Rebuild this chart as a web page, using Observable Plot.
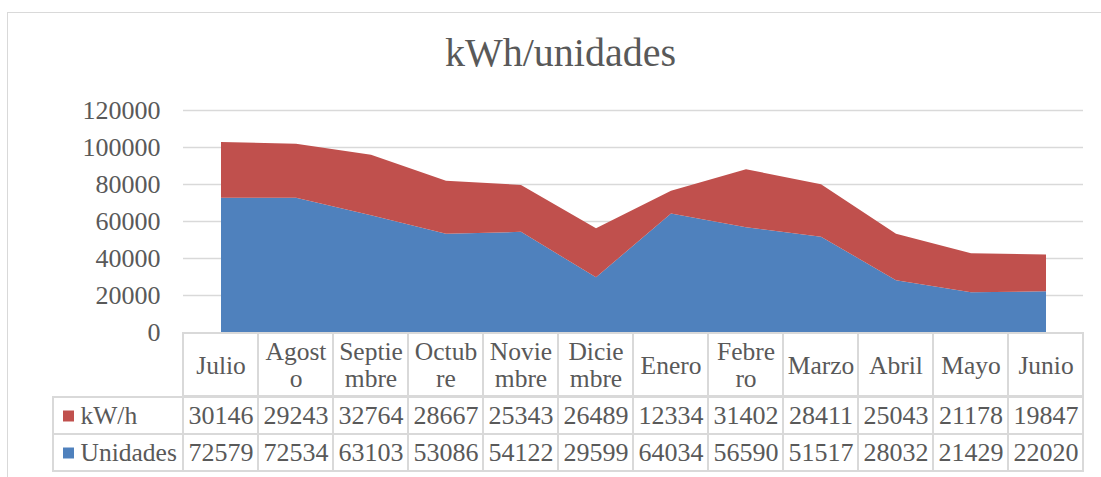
<!DOCTYPE html>
<html><head><meta charset="utf-8">
<script src="https://cdn.jsdelivr.net/npm/d3@7"></script>
<script src="https://cdn.jsdelivr.net/npm/@observablehq/plot@0.6"></script>
<style>
html,body{margin:0;padding:0;background:#fff;overflow:hidden;}
#wrap{position:relative;width:1101px;height:477px;overflow:hidden;font-family:"Liberation Serif",serif;color:#595959;background:#fff;}
#frame{position:absolute;left:7px;top:12px;width:1200px;height:600px;border:1.5px solid #d9d9d9;box-sizing:border-box;}
#title{position:absolute;left:0;top:33px;width:1121px;text-align:center;font-size:40px;line-height:40px;}
svg{position:absolute;overflow:visible;}
</style></head><body>
<div id="wrap"><div id="frame"></div><div id="title">kWh/unidades</div></div>
<script>
// ---- data ----
const months = ["Julio","Agosto","Septiembre","Octubre","Noviembre","Diciembre","Enero","Febrero","Marzo","Abril","Mayo","Junio"];
const monthLabels = ["Julio","Agost\no","Septie\nmbre","Octub\nre","Novie\nmbre","Dicie\nmbre","Enero","Febre\nro","Marzo","Abril","Mayo","Junio"];
const seriesNames = ["kW/h","Unidades"];
const kwh = [30146,29243,32764,28667,25343,26489,12334,31402,28411,25043,21178,19847];
const unidades = [72579,72534,63103,53086,54122,29599,64034,56590,51517,28032,21429,22020];
const yTicks = [0,20000,40000,60000,80000,100000,120000];

// ---- styles ----
const colors = ["#c0504d","#4f81bd"];
const gridColor = "#d9d9d9";
const textColor = "#595959";
const baseStyle = {fontFamily:"'Liberation Serif', serif", fontSize:"25.5px", color:textColor, background:"transparent", overflow:"visible"};
const wrap = document.getElementById("wrap");

const stacked = [
  ...months.map((m,i)=>({month:m, series:"Unidades", value:unidades[i]})),
  ...months.map((m,i)=>({month:m, series:"kW/h", value:kwh[i]}))
];
const rows = [
  ...months.map((m,i)=>({month:m, series:"kW/h", value:kwh[i]})),
  ...months.map((m,i)=>({month:m, series:"Unidades", value:unidades[i]}))
];

// ---- main stacked area chart ----
const chart = Plot.plot({
  width:1101, height:340, marginTop:110, marginBottom:8, marginLeft:183, marginRight:18,
  style: baseStyle,
  x: {type:"point", domain:months, padding:0.5, axis:null},
  y: {domain:[0,120000], axis:null},
  color: {domain:seriesNames, range:colors},
  marks: [
    Plot.gridY(yTicks.filter(t=>t>0), {stroke:gridColor, strokeOpacity:1, strokeWidth:1.5}),
    Plot.areaY(stacked, {x:"month", y:"value", fill:"series", order:null}),
    Plot.axisY(yTicks, {tickSize:0, tickPadding:23, fontSize:26, label:null, tickFormat:d=>String(d)})
  ]
});
chart.style.left="0px"; chart.style.top="0px";
wrap.appendChild(chart);

// ---- table header row ----
const header = Plot.plot({
  width:1101, height:64, marginTop:1, marginBottom:0, marginLeft:183, marginRight:18,
  style: baseStyle,
  x: {type:"band", domain:months, padding:0, axis:null},
  marks: [
    Plot.cell(months, {x:d=>d, fill:"white", stroke:gridColor, strokeWidth:2}),
    Plot.text(months, {x:d=>d, text:(d,i)=>monthLabels[i], lineHeight:1.06, fill:textColor})
  ]
});
header.style.left="0px"; header.style.top="332px";
wrap.appendChild(header);

// ---- table value rows ----
const table = Plot.plot({
  width:1101, height:77, marginTop:1, marginBottom:1, marginLeft:183, marginRight:18,
  style: baseStyle,
  x: {type:"band", domain:months, padding:0, axis:null},
  y: {type:"band", domain:seriesNames, padding:0, axis:null},
  marks: [
    Plot.cell(rows, {x:"month", y:"series", fill:"white", stroke:gridColor, strokeWidth:2}),
    Plot.text(rows, {x:"month", y:"series", text:d=>String(d.value), fontSize:26, fill:textColor})
  ]
});
table.style.left="0px"; table.style.top="395px";
wrap.appendChild(table);

// ---- legend column ----
const legend = Plot.plot({
  width:183, height:77, marginTop:1, marginBottom:1, marginLeft:53, marginRight:0,
  style: baseStyle,
  y: {type:"band", domain:seriesNames, padding:0, axis:null},
  color: {domain:seriesNames, range:colors},
  marks: [
    Plot.cell(seriesNames, {y:d=>d, fill:"white", stroke:gridColor, strokeWidth:2}),
    Plot.dot(seriesNames, {y:d=>d, frameAnchor:"left", dx:15, symbol:"square", r:6.2, fill:d=>d, stroke:null}),
    Plot.text(seriesNames, {y:d=>d, text:d=>d, frameAnchor:"left", textAnchor:"start", dx:27, fill:textColor})
  ]
});
legend.style.left="0px"; legend.style.top="395px";
wrap.appendChild(legend);
</script>
</body></html>
